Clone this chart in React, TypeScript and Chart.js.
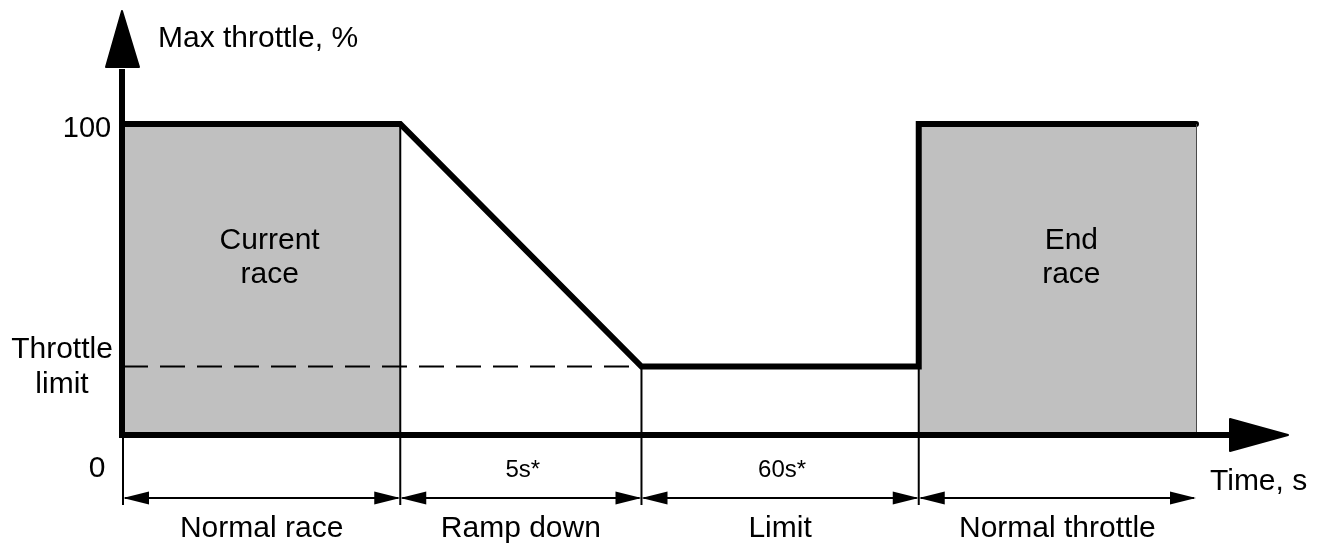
import React, { useEffect, useRef } from 'react';
import Chart from 'chart.js/auto';

// ---- data ----
const timeBreaks = [0, 10, 18.7, 28.7, 38.7];
const phaseNames = ['Normal race', 'Ramp down', 'Limit', 'Normal throttle'];
const phaseDurations = ['', '5s*', '60s*', ''];
const maxThrottle = 100;
const throttleLimit = 22;
const profileTimes = [0, 10, 18.7, 28.7, 28.7, 38.7];
const profileThrottle = [100, 100, 22, 22, 100, 100];
const shadedStart = [0, 28.7];
const shadedEnd = [10, 38.7];
const shadedLabels = [['Current', 'race'], ['End', 'race']];
const yTickValues = [100, 22, 0];
const yTickLabels = [['100'], ['Throttle', 'limit'], ['0']];
const yAxisTitle = 'Max throttle, %';
const xAxisTitle = 'Time, s';

const FONT = '"Liberation Sans", Arial, Helvetica, sans-serif';

const diagramPlugin = {
  id: 'diagram',
  afterDatasetsDraw(chart: any) {
    const ctx = chart.ctx as CanvasRenderingContext2D;
    const xs = chart.scales.x;
    const ys = chart.scales.y;
    const X = (v: number) => xs.getPixelForValue(v);
    const Y = (v: number) => ys.getPixelForValue(v);
    const x0 = X(0);
    const y0 = Y(0);
    const yTop = Y(maxThrottle);
    const xEnd = X(timeBreaks[timeBreaks.length - 1]);
    const dimY = y0 + 63;
    const extBottom = y0 + 70;

    ctx.save();

    // right border of last shaded region
    ctx.strokeStyle = '#4a4a4a';
    ctx.lineWidth = 1;
    ctx.beginPath();
    ctx.moveTo(Math.round(xEnd) + 0.5, yTop);
    ctx.lineTo(Math.round(xEnd) + 0.5, y0);
    ctx.stroke();

    // extension lines
    ctx.strokeStyle = '#000';
    ctx.lineWidth = 2;
    for (let i = 0; i < timeBreaks.length - 1; i++) {
      const t = timeBreaks[i];
      let top = y0;
      if (i > 0) {
        const vals = profileTimes
          .map((pt, k) => (pt === t ? profileThrottle[k] : null))
          .filter((v) => v !== null) as number[];
        top = Y(Math.min(...vals));
      }
      ctx.beginPath();
      ctx.moveTo(X(t), top);
      ctx.lineTo(X(t), extBottom);
      ctx.stroke();
    }

    // dimension lines with arrowheads
    const headLen = 26;
    const headHalf = 6.5;
    const drawHead = (tipX: number, dir: number) => {
      ctx.beginPath();
      ctx.moveTo(tipX, dimY);
      ctx.lineTo(tipX + dir * headLen, dimY - headHalf);
      ctx.lineTo(tipX + dir * headLen, dimY + headHalf);
      ctx.closePath();
      ctx.fill();
    };
    ctx.fillStyle = '#000';
    for (let i = 0; i < phaseNames.length; i++) {
      const a = X(timeBreaks[i]);
      const b = X(timeBreaks[i + 1]);
      ctx.lineWidth = 2;
      ctx.beginPath();
      ctx.moveTo(a + 2, dimY);
      ctx.lineTo(b - 2, dimY);
      ctx.stroke();
      drawHead(a, 1);
      drawHead(b, -1);

      const cx = (a + b) / 2;
      ctx.textAlign = 'center';
      ctx.textBaseline = 'alphabetic';
      if (phaseDurations[i]) {
        ctx.font = `24px ${FONT}`;
        ctx.fillText(phaseDurations[i], cx + 2, y0 + 42);
      }
      ctx.font = `30px ${FONT}`;
      ctx.fillText(phaseNames[i], cx, y0 + 102);
    }

    // axes
    ctx.strokeStyle = '#000';
    ctx.lineWidth = 6;
    ctx.lineCap = 'butt';
    ctx.beginPath();
    ctx.moveTo(x0 - 1, y0 + 3);
    ctx.lineTo(x0 - 1, yTop - 55);
    ctx.stroke();
    ctx.beginPath();
    ctx.moveTo(x0 - 4, y0);
    ctx.lineTo(xEnd + 36, y0);
    ctx.stroke();

    ctx.lineJoin = 'round';
    ctx.lineWidth = 2;
    // y arrow
    ctx.beginPath();
    ctx.moveTo(x0 - 1, yTop - 113);
    ctx.lineTo(x0 - 17, yTop - 57);
    ctx.lineTo(x0 + 16, yTop - 57);
    ctx.closePath();
    ctx.fill();
    ctx.stroke();
    // x arrow
    ctx.beginPath();
    ctx.moveTo(xEnd + 92, y0);
    ctx.lineTo(xEnd + 34, y0 - 16);
    ctx.lineTo(xEnd + 34, y0 + 16);
    ctx.closePath();
    ctx.fill();
    ctx.stroke();

    // axis titles
    ctx.font = `30px ${FONT}`;
    ctx.textAlign = 'left';
    ctx.textBaseline = 'alphabetic';
    ctx.fillText(yAxisTitle, x0 + 35, yTop - 77);
    ctx.fillText(xAxisTitle, xEnd + 14, y0 + 55);

    // y tick labels
    ctx.textAlign = 'center';
    yTickValues.forEach((v, i) => {
      const lines = yTickLabels[i];
      const py = Y(v);
      if (lines.length === 1) {
        if (v === 0) {
          ctx.fillText(lines[0], x0 - 26, py + 42);
        } else {
          ctx.font = `29px ${FONT}`;
          ctx.fillText(lines[0], x0 - 36, py + 13);
          ctx.font = `30px ${FONT}`;
        }
      } else {
        ctx.fillText(lines[0], x0 - 61, py - 9);
        ctx.fillText(lines[1], x0 - 61, py + 26);
      }
    });

    // region labels
    shadedLabels.forEach((lines, i) => {
      const cx = (X(shadedStart[i]) + X(shadedEnd[i])) / 2 + (i === 0 ? 8 : 14);
      const cy = (yTop + y0) / 2 - 25;
      ctx.fillText(lines[0], cx, cy - 6);
      ctx.fillText(lines[1], cx, cy + 28);
    });

    ctx.restore();
  },
};

export default function App() {
  const ref = useRef<HTMLCanvasElement>(null);
  useEffect(() => {
    if (!ref.current) return;
    const shaded = shadedStart.map((s, i) => ({
      type: 'line' as const,
      data: [
        { x: s, y: maxThrottle },
        { x: shadedEnd[i], y: maxThrottle },
      ],
      fill: 'origin',
      backgroundColor: '#c0c0c0',
      borderWidth: 0,
      pointRadius: 0,
      order: 10,
    }));
    const chart = new Chart(ref.current, {
      type: 'line',
      data: {
        datasets: [
          ...shaded,
          {
            data: [
              { x: 0, y: throttleLimit },
              { x: timeBreaks[2], y: throttleLimit },
            ],
            borderColor: '#000',
            borderWidth: 2,
            borderDash: [25, 12],
            pointRadius: 0,
            fill: false,
            order: 5,
          },
          {
            data: profileTimes.map((t, i) => ({ x: t, y: profileThrottle[i] })),
            borderColor: '#000',
            borderWidth: 6,
            borderJoinStyle: 'miter',
            borderCapStyle: 'round',
            pointRadius: 0,
            fill: false,
            tension: 0,
            clip: false,
            order: 1,
          },
        ] as any,
      },
      options: {
        animation: false,
        responsive: false,
        devicePixelRatio: 1,
        events: [],
        layout: { padding: { left: 123, right: 129, top: 124, bottom: 111 } },
        scales: {
          x: { type: 'linear', min: 0, max: timeBreaks[timeBreaks.length - 1], display: false },
          y: { type: 'linear', min: 0, max: maxThrottle, display: false },
        },
        plugins: { legend: { display: false }, tooltip: { enabled: false } },
      },
      plugins: [diagramPlugin],
    });
    return () => chart.destroy();
  }, []);
  return (
    <canvas
      ref={ref}
      width={1325}
      height={546}
      style={{ position: 'fixed', left: 0, top: 0, width: 1325, height: 546, background: '#fff' }}
    />
  );
}
